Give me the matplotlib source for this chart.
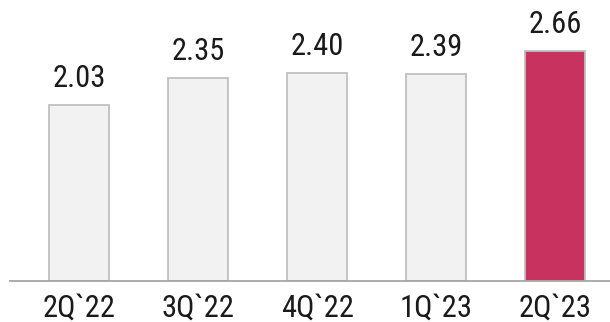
import matplotlib.pyplot as plt
from matplotlib import font_manager

quarters = ["2Q`22", "3Q`22", "4Q`22", "1Q`23", "2Q`23"]
values = [2.03, 2.35, 2.40, 2.39, 2.66]
highlight = "2Q`23"

# prefer a narrow face like the original; fall back to a smaller regular one
names = {f.name for f in font_manager.fontManager.ttflist}
family, size = "Liberation Sans", 20
for cand in ["Liberation Sans Narrow", "Roboto Condensed", "Open Sans Condensed"]:
    if cand in names:
        family, size = cand, 22
        break
plt.rcParams["font.family"] = [family, "DejaVu Sans"]

fig = plt.figure(figsize=(6.1, 3.22), dpi=100)
ax = fig.add_axes([10 / 610, 41 / 322, 600 / 610, 281 / 322])

colors = ["#c7325f" if q == highlight else "#f2f2f2" for q in quarters]
x = list(range(len(quarters)))
bars = ax.bar(x, values, width=0.5, color=colors, edgecolor="#c0c0c0", linewidth=1.3)

for b, v in zip(bars, values):
    ax.annotate(f"{v:.2f}", (b.get_x() + b.get_width() / 2, b.get_height()),
                xytext=(0, 13), textcoords="offset points",
                ha="center", va="baseline", fontsize=size, color="#1a1a1a")

ax.set_xlim(-0.58, 4.46)
ax.set_ylim(0, 3.25)
ax.set_xticks(x)
ax.set_xticklabels(quarters, fontsize=size, color="#1a1a1a")
ax.tick_params(axis="x", length=0, pad=9)
ax.set_yticks([])
for s in ["top", "right", "left"]:
    ax.spines[s].set_visible(False)
ax.spines["bottom"].set_color("#a6a6a6")
ax.spines["bottom"].set_linewidth(1.3)

fig.savefig("out.png", dpi=100)
